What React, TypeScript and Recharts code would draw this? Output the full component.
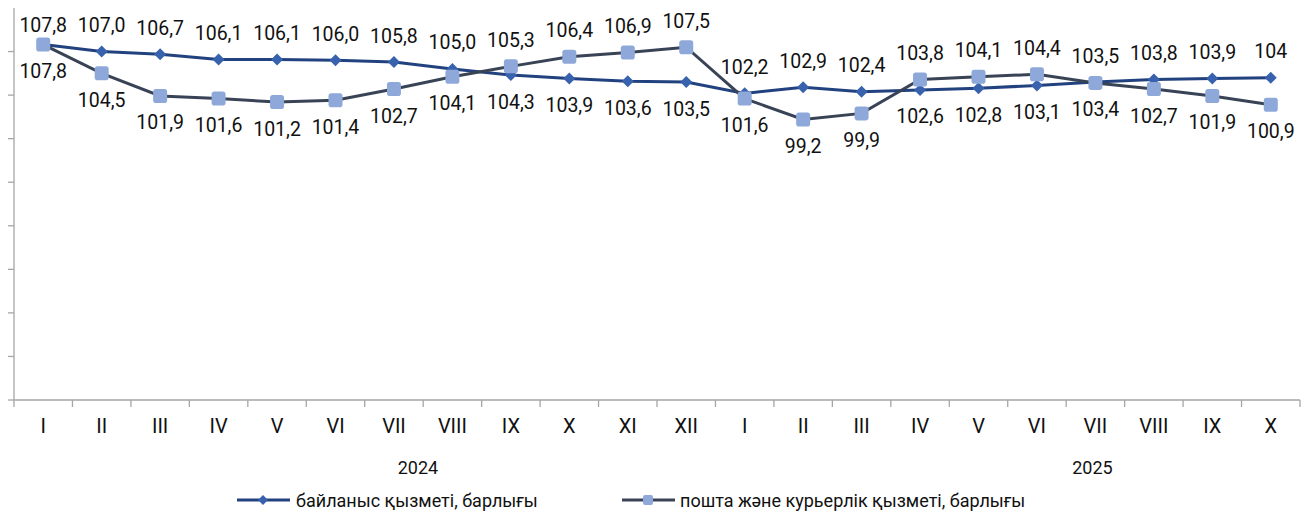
import { LabelList, Legend, Line, LineChart, XAxis, YAxis } from "recharts";

const months = ["I", "II", "III", "IV", "V", "VI", "VII", "VIII", "IX", "X", "XI", "XII", "I", "II", "III", "IV", "V", "VI", "VII", "VIII", "IX", "X"];
const years = ["2024", "2025"];
const yearLabelAt = [6.91, 18.45];

const communication = [107.8, 107.0, 106.7, 106.1, 106.1, 106.0, 105.8, 105.0, 104.3, 103.9, 103.6, 103.5, 102.2, 102.9, 102.4, 102.6, 102.8, 103.1, 103.5, 103.8, 103.9, 104.0];
const postal = [107.8, 104.5, 101.9, 101.6, 101.2, 101.4, 102.7, 104.1, 105.3, 106.4, 106.9, 107.5, 101.6, 99.2, 99.9, 103.8, 104.1, 104.4, 103.4, 102.7, 101.9, 100.9];
const commLabelOverride: Record<number, string> = { 21: "104" };

const yTicks = [67, 72, 77, 82, 87, 92, 97, 102, 107];

const seriesNames = ["байланыс қызметі, барлығы", "пошта және курьерлік қызметі, барлығы"];

const FONT = "Roboto, 'Noto Sans', sans-serif";
const AXIS = "#A6A6A6";
const COMM_LINE = "#22427F";
const COMM_DOT = "#3862AE";
const POST_LINE = "#394356";
const POST_DOT = "#8EA8DA";

const data = months.map((m, i) => ({ pos: i + 0.5, month: m, comm: communication[i], post: postal[i] }));

const xTicks: number[] = [];
for (let i = 0; i <= months.length; i++) {
  xTicks.push(i);
  if (i < months.length) xTicks.push(i + 0.5);
}
yearLabelAt.forEach((v) => xTicks.push(v));
xTicks.sort((a, b) => a - b);

const fmt = (v: number) => v.toFixed(1).replace(".", ",");

const XTick = (props: any) => {
  const { x, y, payload } = props;
  const v = payload.value as number;
  const yi = yearLabelAt.indexOf(v);
  if (yi >= 0) {
    return (
      <text x={x} y={y + 67} textAnchor="middle" dominantBaseline="central" fontFamily={FONT} fontSize={18} fill="#111">
        {years[yi]}
      </text>
    );
  }
  if (Number.isInteger(v)) {
    return <line x1={x} x2={x} y1={y} y2={y + 7} stroke={AXIS} strokeWidth={1.3} />;
  }
  return (
    <text x={x} y={y + 26} textAnchor="middle" dominantBaseline="central" fontFamily={FONT} fontSize={20} fill="#111">
      {months[Math.floor(v)]}
    </text>
  );
};

const Diamond = ({ cx, cy, r = 6 }: any) => (
  <path d={`M${cx},${cy - r}L${cx + r},${cy}L${cx},${cy + r}L${cx - r},${cy}Z`} fill={COMM_DOT} />
);

const Square = ({ cx, cy, s = 14 }: any) => (
  <rect x={cx - s / 2} y={cy - s / 2} width={s} height={s} rx={s / 5} fill={POST_DOT} />
);

const makeLabel = (series: "comm" | "post") => (props: any) => {
  const { x, y, index } = props;
  const own = series === "comm" ? communication[index] : postal[index];
  const other = series === "comm" ? postal[index] : communication[index];
  const tie = own === other;
  const above = own > other || (tie && series === "comm");
  const text = series === "comm" && commLabelOverride[index] ? commLabelOverride[index] : fmt(own);
  return (
    <text
      x={x}
      y={above ? y - (tie ? 19 : 26) : y + 27}
      textAnchor="middle"
      dominantBaseline="central"
      fontFamily={FONT}
      fontSize={19.5}
      fill="#111"
    >
      {text}
    </text>
  );
};

const LegendContent = () => (
  <svg width={1311} height={26}>
    <line x1={237} x2={290} y1={13} y2={13} stroke={COMM_LINE} strokeWidth={3} />
    <Diamond cx={263} cy={13} r={5} />
    <text x={296} y={13} dominantBaseline="central" fontFamily={FONT} fontSize={18} fill="#111">
      {seriesNames[0]}
    </text>
    <line x1={622} x2={675} y1={13} y2={13} stroke={POST_LINE} strokeWidth={3} />
    <Square cx={648} cy={13} s={10} />
    <text x={680} y={13} dominantBaseline="central" fontFamily={FONT} fontSize={18} fill="#111">
      {seriesNames[1]}
    </text>
  </svg>
);

export default function App() {
  return (
    <div style={{ position: "absolute", left: 0, top: 0, width: 1311, height: 513, background: "#fff" }}>
      <LineChart width={1311} height={513} data={data} margin={{ top: 8, right: 11, left: 13, bottom: 13 }}>
        <XAxis
          dataKey="pos"
          type="number"
          domain={[0, months.length]}
          ticks={xTicks}
          interval={0}
          tickLine={false}
          tickSize={0}
          tickMargin={0}
          axisLine={{ stroke: AXIS, strokeWidth: 1.3 }}
          tick={<XTick />}
          height={100}
        />
        <YAxis
          domain={[67, 112]}
          ticks={yTicks}
          width={1}
          tick={<g />}
          tickSize={6}
          tickLine={{ stroke: AXIS, strokeWidth: 1.3 }}
          axisLine={{ stroke: AXIS, strokeWidth: 1.3 }}
          allowDataOverflow
        />
        <Legend
          verticalAlign="middle"
          content={<LegendContent />}
          wrapperStyle={{ position: "absolute", left: 0, top: 487, width: 1311 }}
        />
        <Line
          dataKey="comm"
          name={seriesNames[0]}
          stroke={COMM_LINE}
          strokeWidth={3}
          dot={(p: any) => <Diamond key={`d-${p.index}`} cx={p.cx} cy={p.cy} />}
          activeDot={false}
          isAnimationActive={false}
        >
          <LabelList dataKey="comm" content={makeLabel("comm")} />
        </Line>
        <Line
          dataKey="post"
          name={seriesNames[1]}
          stroke={POST_LINE}
          strokeWidth={3}
          dot={(p: any) => <Square key={`s-${p.index}`} cx={p.cx} cy={p.cy} />}
          activeDot={false}
          isAnimationActive={false}
        >
          <LabelList dataKey="post" content={makeLabel("post")} />
        </Line>
      </LineChart>
    </div>
  );
}
